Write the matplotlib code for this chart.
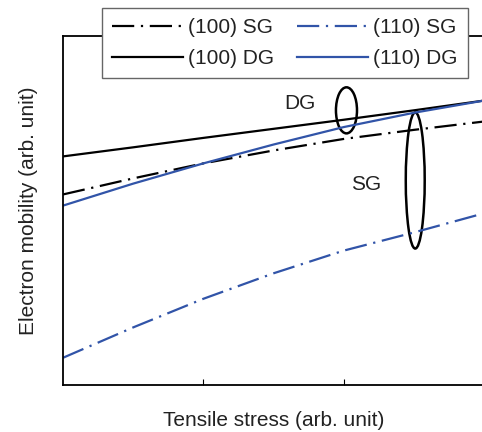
import matplotlib
matplotlib.use('Agg')
import matplotlib.pyplot as plt
from matplotlib.patches import Ellipse

plt.rcParams['font.family'] = ['Liberation Sans', 'DejaVu Sans']

# stress points (arb. unit)
stress = [0, 0.5, 1, 1.5, 2, 2.5, 3]
sg_100 = [0.546, 0.592, 0.635, 0.672, 0.705, 0.731, 0.755]
dg_100 = [0.655, 0.681, 0.708, 0.734, 0.760, 0.787, 0.815]
sg_110 = [0.078, 0.165, 0.247, 0.320, 0.385, 0.437, 0.492]
dg_110 = [0.514, 0.577, 0.635, 0.689, 0.739, 0.780, 0.815]

blue = '#3154a8'
dashdot = (10, 3, 1, 3)

fig = plt.figure(figsize=(4.82, 4.32), dpi=100)
ax = fig.add_axes([63/482, 1 - 385/432, 421/482, 349/432])

ax.plot(stress, sg_100, color='black', lw=1.6, dashes=dashdot, label='(100) SG')
ax.plot(stress, dg_100, color='black', lw=1.6, label='(100) DG')
ax.plot(stress, sg_110, color=blue, lw=1.6, dashes=dashdot, label='(110) SG')
ax.plot(stress, dg_110, color=blue, lw=1.6, label='(110) DG')

ax.set_xlim(0, 3)
ax.set_ylim(0, 1)
ax.set_xticks([1, 2])
ax.set_xticklabels([])
ax.set_yticks([])
ax.tick_params(axis='x', direction='in', length=4, width=0.8)
ax.spines['right'].set_visible(False)
for s in ['left', 'bottom', 'top']:
    ax.spines[s].set_linewidth(1.3)

# ellipses grouping DG and SG curves
ax.add_patch(Ellipse((2.02, 0.787), 0.15, 0.132, fill=False, lw=1.8, color='black', clip_on=False))
ax.add_patch(Ellipse((2.51, 0.586), 0.135, 0.39, fill=False, lw=1.8, color='black', clip_on=False))
ax.text(1.69, 0.807, 'DG', fontsize=15, ha='center', va='center', color='#222222')
ax.text(2.16, 0.575, 'SG', fontsize=15, ha='center', va='center', color='#222222')

ax.set_xlabel('Tensile stress (arb. unit)', fontsize=15, color='#222222', labelpad=15)
ax.set_ylabel('Electron mobility (arb. unit)', fontsize=15, color='#222222', labelpad=18)

leg = ax.legend(ncol=2, loc='upper left', bbox_to_anchor=(102/482, 1 - 8/432),
                bbox_transform=fig.transFigure, borderaxespad=0, fontsize=15,
                frameon=True, fancybox=False, edgecolor='#666666', framealpha=1,
                handlelength=3.4, handletextpad=0.25, columnspacing=1.1,
                labelspacing=0.55, borderpad=0.5)
leg.get_frame().set_linewidth(1.0)
for t in leg.get_texts():
    t.set_color('#222222')

fig.savefig('out.png', dpi=100)
